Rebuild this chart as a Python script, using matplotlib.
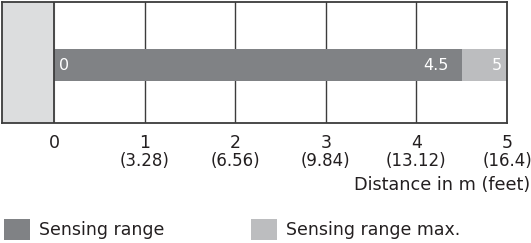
import matplotlib
matplotlib.use("Agg")
import matplotlib.pyplot as plt
from matplotlib.patches import Patch

# ---- data ----
range_start = 0.0
sensing_range = 4.5
sensing_range_max = 5.0
tick_m = [0, 1, 2, 3, 4, 5]
tick_ft = ["", "(3.28)", "(6.56)", "(9.84)", "(13.12)", "(16.4)"]
bar_labels = ["0", "4.5", "5"]
legend_labels = ["Sensing range", "Sensing range max."]
axis_label = "Distance in m (feet)"

# ---- style ----
DARK = "#808285"
LIGHT = "#bcbdbf"
BLOCK = "#dcddde"
EDGE = "#3c3c3c"
TXT = "#231f20"
plt.rcParams['font.family'] = ['DejaVu Sans']

W, H = 531, 243
fig = plt.figure(figsize=(W / 100, H / 100), dpi=100)
ax = fig.add_axes([2 / W, 1 - 123 / H, 505 / W, 121 / H])

px_per_unit = 90.8
xmin = -52 / px_per_unit
ax.set_xlim(xmin, sensing_range_max)
ax.set_ylim(0, 1)

# sensor block
ax.axvspan(xmin, range_start, color=BLOCK, zorder=0)
ax.axvline(range_start, color=EDGE, lw=1.3, zorder=3)

# grid lines
for t in tick_m[1:-1]:
    ax.axvline(t, color=EDGE, lw=1.0, zorder=1)

# bars (y in axes: 49..81 px from top of figure)
y_top, y_bot = (123 - 49) / 121, (123 - 81) / 121
yc, bh = (y_top + y_bot) / 2, y_top - y_bot
ax.barh(yc, sensing_range - range_start, left=range_start, height=bh,
        color=DARK, zorder=2)
ax.barh(yc, sensing_range_max - sensing_range, left=sensing_range, height=bh,
        color=LIGHT, zorder=2)

bfs = 11.5
u = 1 / px_per_unit
ax.text(range_start + 5 * u, yc, bar_labels[0], color="white", fontsize=bfs,
        ha="left", va="center", zorder=4)
ax.text(sensing_range - 13 * u, yc, bar_labels[1], color="white", fontsize=bfs,
        ha="right", va="center", zorder=4)
ax.text(sensing_range_max - 5 * u, yc, bar_labels[2], color="white", fontsize=bfs,
        ha="right", va="center", zorder=4)

for s in ax.spines.values():
    s.set_color(EDGE)
    s.set_linewidth(1.3)

ax.set_yticks([])
ax.set_xticks(tick_m)
ax.set_xticklabels([])
ax.tick_params(axis="x", length=0)

# tick labels (two lines: m, feet)
for m, ft in zip(tick_m, tick_ft):
    ax.annotate(str(m), (m, 0), xycoords=("data", "axes fraction"),
                xytext=(0, -20.5 * 0.72), textcoords="offset points",
                ha="center", va="center", fontsize=12.5, color=TXT)
    if ft:
        ax.annotate(ft, (m, 0), xycoords=("data", "axes fraction"),
                    xytext=(0, -38 * 0.72), textcoords="offset points",
                    ha="center", va="center", fontsize=12, color=TXT)

fig.text(530 / W, 1 - 185 / H, axis_label, ha="right", va="center",
         fontsize=12.7, color=TXT)

handles = [Patch(facecolor=DARK, edgecolor="none"),
           Patch(facecolor=LIGHT, edgecolor="none")]
lfs = 12.5
for h, lab, x0 in zip(handles, legend_labels, [4, 251]):
    fig.legend([h], [lab], loc="center left",
               bbox_to_anchor=(x0 / W, 1 - 229.5 / H), frameon=False,
               fontsize=lfs, handlelength=1.5, handleheight=1.45,
               handletextpad=0.5, borderaxespad=0, borderpad=0,
               labelcolor=TXT)

fig.savefig("out.png", dpi=100)
